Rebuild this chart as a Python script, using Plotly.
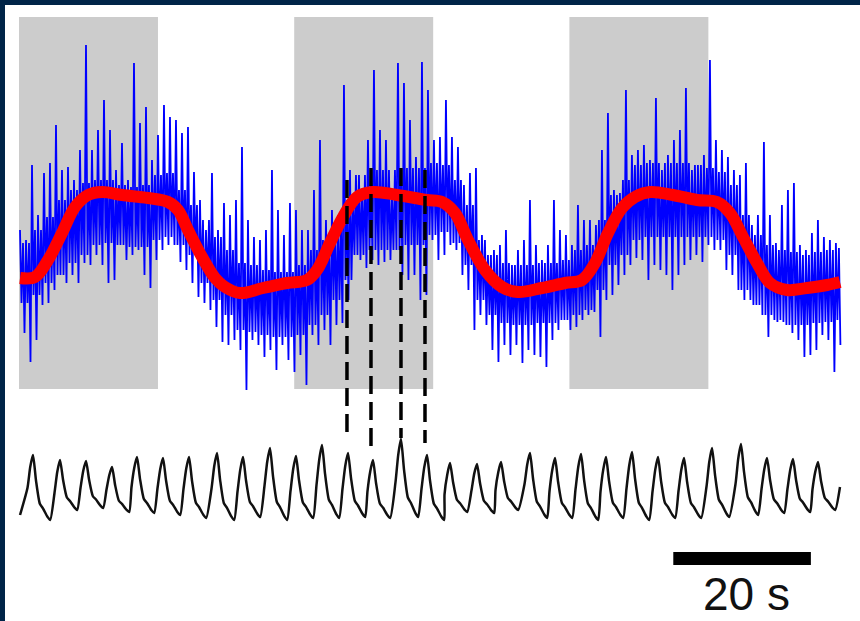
import plotly.graph_objects as go

# ---------------- data ----------------
# stimulus blocks (s)
stim_on = [0, 40, 80]
stim_dur = 20.2
shade_lo, shade_hi = 11, 383          # vertical extent of shading (a.u.)

# noisy fluorescence trace (a.u.): spike tops / spike bottoms every 0.872 s
t0_blue = 0.145
dt_blue = 0.218
blue_peaks = [
    170, 160, 235, 185, 227, 237, 275, 230, 233, 220, 250, 355, 250, 270, 300, 270, 230, 257, 220, 337,
    277, 293, 240, 265, 295, 283, 280, 267, 273, 228, 200, 170, 227, 170, 197,
    185, 200, 253, 180, 163, 160, 170, 230, 190, 165, 197, 190, 170, 170, 210, 260, 180, 190, 185, 315,
    230, 225, 210, 260, 330, 270, 260, 205, 337, 317, 280, 243, 338,
    310, 260, 263, 300, 263, 253, 215, 227, 232, 165, 145, 150, 155, 170, 135, 150, 160, 200, 155, 140,
    155, 200, 170, 165, 155, 195, 180, 180, 175, 250, 287, 210, 207, 310, 245,
    250, 255, 240, 302, 230, 245, 260, 270, 312, 230, 235, 245, 340, 260, 250, 243, 230, 225, 237, 175,
    185, 258, 185, 157, 195, 210, 217, 155, 150, 167, 180, 163, 160, 157,
]
blue_troughs = [
    67, 38, 60, 95, 97, 110, 125, 117, 125, 117, 137, 135, 145, 135, 117, 120, 155, 140, 145, 150,
    125, 112, 140, 150, 155, 155, 138, 130, 117, 103, 97, 90, 73, 58, 55,
    60, 50, 10, 60, 55, 43, 50, 30, 55, 40, 28, 45, 15, 65, 55, 70, 55, 75, 77, 100,
    145, 140, 132, 140, 135, 138, 140, 150, 125, 120, 125, 100, 105,
    160, 140, 145, 155, 150, 125, 110, 70, 85, 75, 50, 38, 55, 45, 55, 37, 50, 45, 43, 33,
    60, 70, 80, 70, 73, 80, 85, 88, 63, 100, 105, 115, 125, 135, 142,
    140, 120, 135, 130, 125, 110, 125, 135, 140, 145, 138, 155, 150, 150, 130, 125, 110, 100, 100, 95,
    85, 63, 80, 80, 75, 67, 60, 43, 45, 50, 65, 60, 28, 55,
]
# dense core of the noisy trace (upper / lower edge), one value per 1.744 s block
blue_core_top = [
    157, 170, 183, 200, 210, 217, 220, 220, 215, 213, 215, 225, 227, 210, 195, 180, 163, 150, 137, 135,
    130, 128, 128, 135, 150, 160, 175, 200, 225, 230, 230, 230, 232, 232, 237, 235, 220, 195, 160, 145,
    137, 135, 135, 137, 137, 140, 150, 155, 180, 205, 220, 235, 237, 237, 237, 237, 235, 232, 228, 215,
    185, 165, 155, 150, 148, 145, 148, 150, 152,
]
blue_core_bot = [
    97, 105, 117, 125, 137, 145, 155, 157, 155, 153, 153, 160, 163, 155, 145, 117, 100, 85, 70, 68,
    65, 63, 63, 65, 75, 85, 100, 120, 145, 150, 150, 150, 155, 155, 165, 168, 157, 135, 100, 85,
    77, 75, 75, 77, 77, 80, 85, 90, 110, 135, 145, 160, 163, 163, 163, 163, 163, 163, 160, 145,
    110, 95, 85, 78, 75, 75, 77, 78, 80,
]

# smooth fit (a.u.)
red_t = [0.15, 2.33, 4.22, 6.25, 8.14, 10.03, 12.06, 14.97, 18.75, 21.66, 23.11, 24.56, 26.6, 28.49,
         29.94, 32.12, 35.47, 38.95, 41.86, 43.31, 45.2, 47.09, 49.13, 51.45, 54.94, 59.3, 61.48,
         63.37, 65.26, 67.73, 70.2, 72.53, 76.02, 79.36, 81.83, 83.72, 85.61, 87.65, 89.53, 91.72,
         95.06, 98.55, 101.45, 103.34, 105.23, 107.27, 109.16, 111.63, 114.53, 117.44, 119.33]
red_v = [122, 123, 140, 167, 193, 205, 208, 205, 202, 198, 190, 170, 143, 122,
         113, 107, 112, 117, 120, 130, 157, 183, 203, 208, 205, 200, 198,
         187, 160, 130, 113, 108, 112, 117, 120, 137, 167, 192, 203, 208,
         205, 200, 198, 187, 163, 137, 117, 110, 112, 115, 118]

# respiration trace: per-cycle peak time (s), peak and trough level (a.u.)
resp_peak_t = [2.03, 5.96, 9.74, 13.52, 17.15, 20.93, 24.71, 28.78, 32.56, 36.48, 40.26, 44.04,
               47.82, 51.45, 55.52, 59.30, 62.65, 66.57, 70.06, 74.27, 77.91, 81.69, 85.32, 89.10,
               92.88, 96.66, 100.73, 104.94, 108.72, 112.50, 116.13]
resp_peak_v = [65, 60, 59, 53, 63, 62, 63, 67, 63, 72, 64, 75, 67, 60, 81, 65, 57, 56, 58, 67,
               62, 66, 63, 68, 63, 62, 72, 76, 62, 61, 58]
resp_trough_v = [0, 10, 12, 8, 7, 5, 2, 0, 3, 0, 2, 2, 3, 2, 3, 0, 8, 7, 10, 2,
                 2, 0, 2, 0, 2, 2, 3, 5, 7, 8, 10]
resp_start = (0.15, 5)
resp_end = (119.33, 33)
# cycle shape: (offset from peak in s, fraction of peak-trough swing)
resp_fall_shape = [(0.45, 0.6), (1.0, 0.25), (1.45, 0.18), (2.1, 0.05), (2.5, 0.0)]
resp_rise_shape = [(-0.8, 0.45), (-0.4, 0.8)]

# dashed markers linking fluorescence peaks to respiration peaks
dash_t = [47.67, 51.16, 55.52, 59.01]
dash_top = [220, 232, 232, 230]
dash_bottom = [-37, -52, -38, -43]

# scale bar
scale_t0 = 95.1
scale_len = 20
scale_label = "20 s"

# ---------------- build traces ----------------
blue_t, blue_v = [], []
j = 0
for i, (hi, lo) in enumerate(zip(blue_peaks, blue_troughs)):
    ct, cb = blue_core_top[i // 2], blue_core_bot[i // 2]
    for v in (hi, cb, ct, lo):
        blue_t.append(t0_blue + j * dt_blue)
        blue_v.append(v)
        j += 1

resp_t, resp_v = [resp_start[0]], [resp_start[1]]
prev_trough = resp_start[1]
for pt, pv, tv in zip(resp_peak_t, resp_peak_v, resp_trough_v):
    for off, frac in resp_rise_shape:
        resp_t.append(pt + off)
        resp_v.append(prev_trough + frac * (pv - prev_trough))
    resp_t.append(pt)
    resp_v.append(pv)
    for off, frac in resp_fall_shape:
        resp_t.append(pt + off)
        resp_v.append(tv + frac * (pv - tv))
    prev_trough = tv
resp_t.append(resp_end[0])
resp_v.append(resp_end[1])

fig = go.Figure()

fig.add_trace(go.Scatter(x=blue_t, y=blue_v, mode="lines",
                         line=dict(color="#0000ff", width=1.8), hoverinfo="skip"))
fig.add_trace(go.Scatter(x=red_t, y=red_v, mode="lines",
                         line=dict(color="#ff0000", width=12, shape="spline", smoothing=1.0),
                         hoverinfo="skip"))
for t, top, bot in zip(dash_t, dash_top, dash_bottom):
    fig.add_trace(go.Scatter(x=[t, t], y=[top, bot], mode="lines",
                             line=dict(color="black", width=3.5, dash="18px,8px"),
                             hoverinfo="skip"))
fig.add_trace(go.Scatter(x=resp_t, y=resp_v, mode="lines", yaxis="y2",
                         line=dict(color="#111111", width=2.5, shape="spline", smoothing=0.6),
                         hoverinfo="skip"))

for s in stim_on:
    fig.add_shape(type="rect", xref="x", yref="y", x0=s, x1=s + stim_dur,
                  y0=shade_lo, y1=shade_hi, fillcolor="#cccccc", line_width=0, layer="below")

fig.add_shape(type="rect", xref="x", yref="y", x0=scale_t0, x1=scale_t0 + scale_len,
              y0=-165, y1=-152, fillcolor="black", line_width=0)
fig.add_annotation(x=scale_t0 + scale_len / 2 + 0.7, y=-220.5, xref="x", yref="y",
                   text=scale_label, showarrow=False, borderpad=0,
                   font=dict(family="Liberation Sans", size=46, color="#111111"),
                   xanchor="center", yanchor="bottom")

fig.update_layout(
    width=860, height=621,
    margin=dict(l=5, t=5, r=0, b=0),
    paper_bgcolor="#002448",
    plot_bgcolor="white",
    showlegend=False,
    xaxis=dict(visible=False, range=[-2.035, 122.238], fixedrange=True),
    yaxis=dict(visible=False, range=[-221, 395], fixedrange=True),
    yaxis2=dict(visible=False, range=[-101, 515], overlaying="y", fixedrange=True),
)

fig.write_html(
    "out.html",
    config={"displayModeBar": False, "staticPlot": True},
    post_script="document.body.style.margin='0px';document.documentElement.style.overflow='hidden';",
)
